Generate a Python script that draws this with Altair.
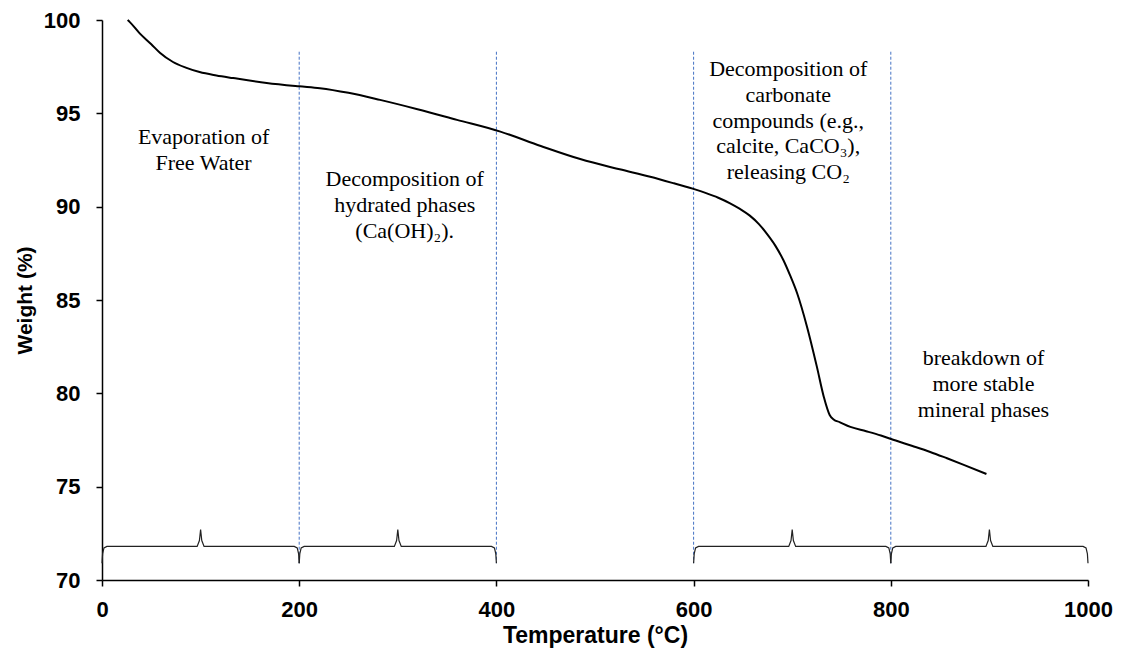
import altair as alt
import pandas as pd

# TGA curve
temp = [26, 28, 38, 50, 59, 72, 85, 99, 116, 133, 167, 200, 221, 250, 282, 320, 360, 404,
        445, 485, 525, 556, 580, 603, 612, 625, 637, 647, 657, 666, 674, 683, 691, 698,
        705, 715, 725, 732, 738, 742, 748, 759, 775, 790, 805, 822, 840, 857, 874, 897]
weight = [100.0, 99.9, 99.3, 98.7, 98.23, 97.75, 97.45, 97.21, 97.03, 96.89, 96.63, 96.45,
          96.35, 96.1, 95.72, 95.22, 94.65, 94.02, 93.25, 92.55, 92.0, 91.6, 91.25, 90.9,
          90.74, 90.48, 90.18, 89.88, 89.52, 89.08, 88.57, 87.9, 87.14, 86.3,
          85.36, 83.57, 81.43, 79.82, 78.84, 78.6, 78.46, 78.2, 77.97, 77.74, 77.47,
          77.18, 76.86, 76.52, 76.17, 75.68]

# dashed separators
sep_x = [200, 400, 600, 800]
sep_top = 98.3
sep_bottom = 70.9

# curly braces
brace_start = [0, 200, 600, 800]
brace_end = [200, 400, 800, 1000]
brace_level = 71.8
brace_tip = 72.7
brace_foot = 70.9

# annotations
ann_text = [
    "Evaporation of\nFree Water",
    "Decomposition of\nhydrated phases\n(Ca(OH)\u2082).",
    "Decomposition of\ncarbonate\ncompounds (e.g.,\ncalcite, CaCO\u2083),\nreleasing CO\u2082",
    "breakdown of\nmore stable\nmineral phases",
]
ann_x = [103, 307, 696, 894]
ann_y = [93.36, 91.11, 97.0, 81.52]

x_ticks = [0, 200, 400, 600, 800, 1000]
y_ticks = [70, 75, 80, 85, 90, 95, 100]

curve = pd.DataFrame({"T": temp, "W": weight})
seps = pd.DataFrame({"T": sep_x, "top": [sep_top] * len(sep_x), "bot": [sep_bottom] * len(sep_x)})

rows = []
for i, (a, b) in enumerate(zip(brace_start, brace_end)):
    m = (a + b) / 2
    mid_up = brace_level + (brace_tip - brace_level) * 0.35
    end_dn = brace_level - (brace_level - brace_foot) * 0.45
    pts = [
        (a, brace_foot), (a + 0.6, end_dn), (a + 2, brace_level - 0.08), (a + 5, brace_level),
        (m - 3.5, brace_level), (m - 1.2, mid_up), (m, brace_tip), (m + 1.2, mid_up),
        (m + 3.5, brace_level), (b - 5, brace_level), (b - 2, brace_level - 0.08),
        (b - 0.6, end_dn), (b, brace_foot),
    ]
    for k, (px, py) in enumerate(pts):
        rows.append({"brace": i, "k": k, "T": px, "W": py})
braces = pd.DataFrame(rows)
ann = pd.DataFrame({"T": ann_x, "W": ann_y, "label": ann_text})

xscale = alt.Scale(domain=[0, 1000], nice=False)
yscale = alt.Scale(domain=[70, 100], nice=False, zero=False)

xaxis = alt.Axis(values=x_ticks, title="Temperature (°C)", grid=False, format="d",
                 labelFlush=False, labelPadding=13, titlePadding=4, titleFontSize=23)
yaxis = alt.Axis(values=y_ticks, title="Weight (%)", grid=False, format="d",
                 labelFlush=False, labelPadding=16, titlePadding=8, titleFontSize=21)

line = alt.Chart(curve).mark_line(color="black", strokeWidth=2, interpolate="monotone").encode(
    x=alt.X("T:Q", scale=xscale, axis=xaxis),
    y=alt.Y("W:Q", scale=yscale, axis=yaxis),
)

rules = alt.Chart(seps).mark_rule(color="#4472C4", strokeWidth=1, strokeDash=[3, 2]).encode(
    x="T:Q", y="top:Q", y2="bot:Q"
)

brace_lines = alt.Chart(braces).mark_line(color="#222222", strokeWidth=1.2).encode(
    x="T:Q", y="W:Q", detail="brace:N", order="k:Q"
)

texts = alt.Chart(ann).mark_text(
    font="Liberation Serif", fontSize=22, lineHeight=25.8, align="center",
    baseline="alphabetic", color="black", lineBreak="\n",
).encode(x="T:Q", y="W:Q", text="label:N")

chart = alt.layer(rules, brace_lines, line, texts).properties(
    width=986, height=560,
    autosize=alt.AutoSizeParams(type="none"),
    padding={"left": 94, "top": 12, "right": 25, "bottom": 71},
).configure_view(stroke=None).configure_axis(
    domainColor="black", domainWidth=1.5, tickColor="black", tickWidth=1.5, tickSize=6,
    labelFont="Liberation Sans", labelFontWeight="bold", labelFontSize=22, labelColor="black",
    titleFont="Liberation Sans", titleFontWeight="bold", titleColor="black",
)

chart.save("out.html", embed_options={"renderer": "svg", "actions": False})
